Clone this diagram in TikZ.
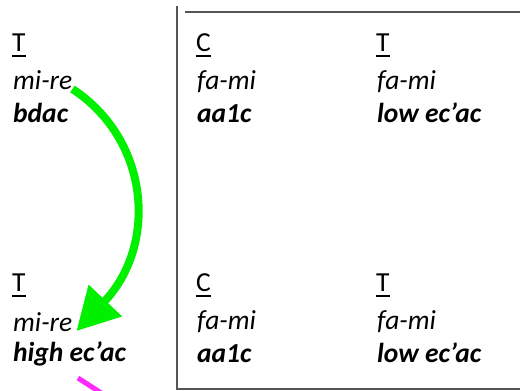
\documentclass[tikz,border=0pt]{standalone}
\usepackage{fontspec}
\setmainfont{Carlito}
\usepackage{tikz}
\usetikzlibrary{arrows.meta}
\definecolor{arrowgreen}{RGB}{0,240,0}
\definecolor{pinkline}{RGB}{255,40,255}
\definecolor{framegray}{RGB}{85,85,85}
\newcommand{\uline}[1]{\setbox0\hbox{#1}\rlap{\rule[-6pt]{\wd0}{1.8pt}}#1}

\begin{document}
\begin{tikzpicture}[
  x=1pt, y=-1pt,
  voice/.style={anchor=base west, inner sep=0pt,
                font=\fontsize{27.5}{33}\selectfont},
  pitch/.style={anchor=base west, inner sep=0pt,
                font=\fontsize{27.5}{33}\selectfont\itshape},
  gene/.style={anchor=base west, inner sep=0pt,
               font=\fontsize{27.5}{33}\selectfont\bfseries\itshape},
  frame/.style={line width=2.2pt, framegray},
  swap/.style={-{Triangle[length=42pt,width=44pt]}, line width=8pt,
               arrowgreen},
  pink/.style={line width=5pt, pinkline}]

\useasboundingbox (0,0) rectangle (520,391);
\clip (0,0) rectangle (520,391);

% ---- the left column, outside the frame ---------------------------------
\node[voice] (tA) at (12, 51) {\uline{T}};
\node[pitch] (pA) at (13, 89) {mi-re};
\node[gene]  (gA) at (13,122) {bdac};
\node[voice] (tB) at (12,291) {\uline{T}};
\node[pitch] (pB) at (13,331) {mi-re};
\node[gene]  (gB) at (13,361) {high ec’ac};

% ---- the two columns inside the frame, same in both rows -----------------
\foreach \row/\dy in {A/0,B/240}{
  \node[voice] (cC\row) at (196, 51+\dy) {\uline{C}};
  \node[pitch] (cP\row) at (197, 89+\dy) {fa-mi};
  \node[gene]  (cG\row) at (197,122+\dy) {aa1c};
  \node[voice] (rT\row) at (376, 51+\dy) {\uline{T}};
  \node[pitch] (rP\row) at (377, 89+\dy) {fa-mi};
  \node[gene]  (rG\row) at (377,122+\dy) {low ec’ac};}

% ---- the frame: left side and bottom, then the top -----------------------
\draw[frame] (177,6) -- (177,389) -- (520,389);
\draw[frame] (185,12) -- (520,12);

% ---- the green arrow from the upper mi-re to the lower one ---------------
\draw[swap] (pA.base east) .. controls (150,140) and (158,245) .. ([xshift=4pt]pB.base east);

% ---- the magenta stroke leaving the picture at the bottom ----------------
\coordinate (pinkA) at (78,378);
\coordinate (pinkB) at (112,400);
\draw[pink] (pinkA) -- (pinkB);
\end{tikzpicture}
\end{document}
